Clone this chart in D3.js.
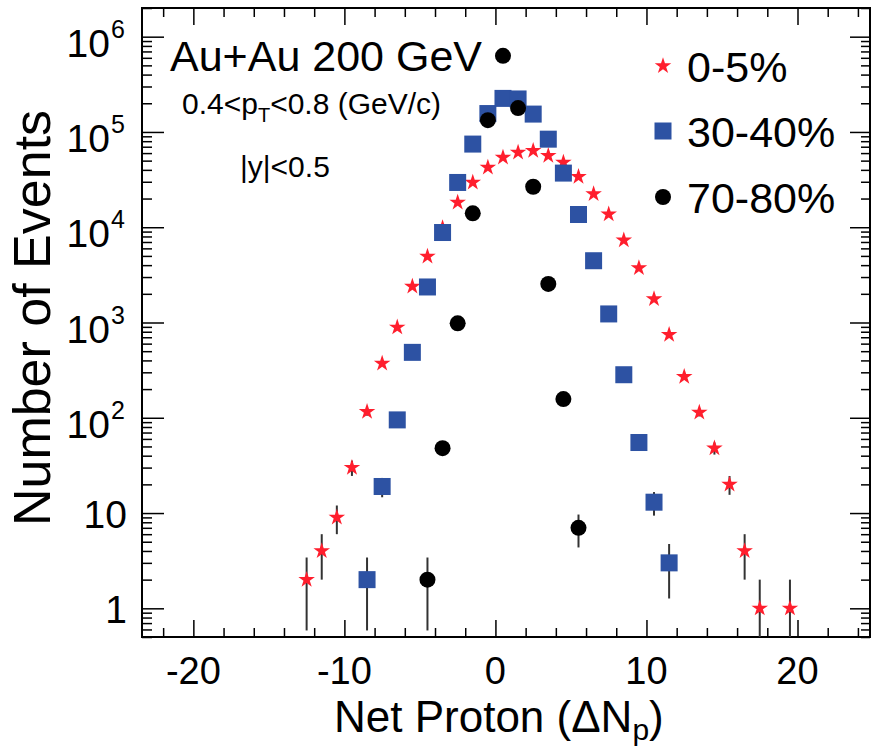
<!DOCTYPE html>
<html>
<head>
<meta charset="utf-8">
<script src="https://cdn.jsdelivr.net/npm/d3@7/dist/d3.min.js"></script>
<style>
body { margin: 0; background: #fff; }
text { font-family: "Liberation Sans", Arial, sans-serif; fill: #000; }
.axis path { display: none; }
.axis line { stroke: #000; stroke-width: 1.5; }
</style>
</head>
<body>
<svg width="871" height="747"></svg>
<script>
// net-proton bins (bin centres) and counts
const binsCentral = [-12.5, -11.5, -10.5, -9.5, -8.5, -7.5, -6.5, -5.5, -4.5, -3.5, -2.5, -1.5, -0.5,
                     0.5, 1.5, 2.5, 3.5, 4.5, 5.5, 6.5, 7.5, 8.5, 9.5, 10.5, 11.5, 12.5, 13.5, 14.5,
                     15.5, 16.5, 17.5, 19.5];
const countsCentral = [2, 4, 9, 30, 116, 372, 890, 2390, 4940, 9800, 18200, 29500, 42400,
                       54000, 61000, 63500, 56200, 47900, 33900, 22300, 13700, 7300, 3730, 1765, 745, 270, 114, 48,
                       20, 4, 1, 1];

const binsMid = [-8.5, -7.5, -6.5, -5.5, -4.5, -3.5, -2.5, -1.5, -0.5, 0.5, 1.5, 2.5, 3.5, 4.5,
                 5.5, 6.5, 7.5, 8.5, 9.5, 10.5, 11.5];
const countsMid = [2, 19, 95, 486, 2360, 8800, 29500, 74600, 156000, 225000, 222000, 154000, 84000, 37000,
                   13600, 4450, 1230, 283, 55, 13, 3];

const binsPeri = [-4.5, -3.5, -2.5, -1.5, -0.5, 0.5, 1.5, 2.5, 3.5, 4.5, 5.5];
const countsPeri = [2, 48, 980, 14000, 133000, 630000, 178000, 26600, 2540, 157, 7];

const legendLabels = ["0-5%", "30-40%", "70-80%"];
const xMajorTicks = [-20, -10, 0, 10, 20];
const yDecades = [1, 10, 100, 1e3, 1e4, 1e5, 1e6];

const svg = d3.select("svg");
const frame = {left: 142, right: 870, top: 8, bottom: 637};

const x = d3.scaleLinear().domain([-23.4, 24.8]).range([frame.left, frame.right]);
const y = d3.scaleLog().domain([0.5, 2e6]).range([frame.bottom, frame.top]);

const xMinor = d3.range(-22, 25, 2).filter(function(v) { return v % 10 !== 0; });
const yMinor = [];
[0.1, 1, 10, 100, 1e3, 1e4, 1e5, 1e6].forEach(function(d) {
    for (let k = 2; k <= 9; k++) {
        const v = k * d;
        if (v >= 0.5 && v <= 2e6) yMinor.push(v);
    }
});

// ticks, all pointing inward
function ticks(axisFn, scale, vals, size, tr) {
    svg.append("g")
        .attr("class", "axis")
        .attr("transform", tr)
        .call(axisFn(scale).tickValues(vals).tickSize(size).tickFormat(""));
}
ticks(d3.axisBottom, x, xMajorTicks, -17, "translate(0," + frame.bottom + ")");
ticks(d3.axisBottom, x, xMinor, -9, "translate(0," + frame.bottom + ")");
ticks(d3.axisTop, x, xMajorTicks, -17, "translate(0," + frame.top + ")");
ticks(d3.axisTop, x, xMinor, -9, "translate(0," + frame.top + ")");
ticks(d3.axisLeft, y, yDecades, -22, "translate(" + frame.left + ",0)");
ticks(d3.axisLeft, y, yMinor, -10, "translate(" + frame.left + ",0)");
ticks(d3.axisRight, y, yDecades, -20, "translate(" + frame.right + ",0)");
ticks(d3.axisRight, y, yMinor, -9, "translate(" + frame.right + ",0)");

svg.append("rect")
    .attr("x", frame.left).attr("y", frame.top)
    .attr("width", frame.right - frame.left).attr("height", frame.bottom - frame.top)
    .attr("fill", "none").attr("stroke", "#000").attr("stroke-width", 2);

// x tick labels
svg.append("g").selectAll("text")
    .data(xMajorTicks)
    .join("text")
    .attr("x", function(d) { return x(d); })
    .attr("y", 684)
    .attr("text-anchor", "middle")
    .attr("font-size", 38)
    .text(function(d) { return d; });

// y tick labels, 10^n with superscript
const yl = svg.append("g").selectAll("g")
    .data(yDecades)
    .join("g")
    .attr("transform", function(d) { return "translate(0," + y(d) + ")"; });
yl.filter(function(d) { return d < 100; })
    .append("text")
    .attr("x", 127).attr("y", 15)
    .attr("text-anchor", "end")
    .attr("font-size", 39)
    .text(function(d) { return d; });
const yp = yl.filter(function(d) { return d >= 100; });
yp.append("text")
    .attr("x", 110).attr("y", 20)
    .attr("text-anchor", "end")
    .attr("font-size", 39)
    .text("10");
yp.append("text")
    .attr("x", 111).attr("y", 1)
    .attr("font-size", 25)
    .text(function(d) { return Math.round(Math.log10(d)); });

// axis titles
const xt = svg.append("text")
    .attr("x", 334).attr("y", 732)
    .attr("font-size", 44);
xt.append("tspan").text("Net Proton (\u0394N");
xt.append("tspan").attr("font-size", 30).attr("dy", 8).text("p");
xt.append("tspan").attr("dy", -8).text(")");

svg.append("text")
    .attr("transform", "translate(50,318) rotate(-90)")
    .attr("text-anchor", "middle")
    .attr("font-size", 52)
    .text("Number of Events");

// annotations
svg.append("text").attr("x", 170).attr("y", 71).attr("font-size", 43).text("Au+Au 200 GeV");
const pt = svg.append("text").attr("x", 182).attr("y", 114).attr("font-size", 30);
pt.append("tspan").text("0.4<p");
pt.append("tspan").attr("font-size", 20).attr("dy", 8).text("T");
pt.append("tspan").attr("dy", -8).text("<0.8 (GeV/c)");
svg.append("text").attr("x", 240).attr("y", 177).attr("font-size", 30).text("|y|<0.5");

// markers
svg.append("clipPath").attr("id", "plotclip")
    .append("rect")
    .attr("x", frame.left).attr("y", frame.top)
    .attr("width", frame.right - frame.left).attr("height", frame.bottom - frame.top);

const plot = svg.append("g").attr("clip-path", "url(#plotclip)");

const series = [
    {bins: binsCentral, counts: countsCentral, shape: "star", color: "#ff1e2d"},
    {bins: binsMid, counts: countsMid, shape: "square", color: "#2d52a3"},
    {bins: binsPeri, counts: countsPeri, shape: "circle", color: "#000"}
];

const starPath = d3.symbol(d3.symbolStar, 85)();

function drawMarker(sel, shape, color) {
    if (shape === "star") {
        sel.append("path").attr("d", starPath).attr("fill", color);
    } else if (shape === "square") {
        sel.append("rect").attr("x", -8.5).attr("y", -8.5).attr("width", 17).attr("height", 17).attr("fill", color);
    } else {
        sel.append("circle").attr("r", 8).attr("fill", color);
    }
}

series.forEach(function(s) {
    const pts = s.bins.map(function(b, i) { return {x: b, v: s.counts[i]}; });
    const g = plot.append("g");
    // poisson error bars
    g.selectAll("line")
        .data(pts)
        .join("line")
        .attr("x1", function(d) { return x(d.x); })
        .attr("x2", function(d) { return x(d.x); })
        .attr("y1", function(d) { return y(Math.max(d.v - Math.sqrt(d.v), 0.3)); })
        .attr("y2", function(d) { return y(d.v + Math.sqrt(d.v)); })
        .attr("stroke", "#333")
        .attr("stroke-width", 2);
    const m = g.selectAll("g.m")
        .data(pts)
        .join("g")
        .attr("class", "m")
        .attr("transform", function(d) { return "translate(" + x(d.x) + "," + y(d.v) + ")"; });
    drawMarker(m, s.shape, s.color);
});

// legend
const legY = [66, 131, 197];
const leg = svg.append("g").selectAll("g")
    .data(series)
    .join("g")
    .attr("transform", function(d, i) { return "translate(663," + legY[i] + ")"; });
leg.each(function(d) { drawMarker(d3.select(this), d.shape, d.color); });
leg.append("text")
    .attr("x", 24).attr("y", 16)
    .attr("font-size", 43)
    .text(function(d, i) { return legendLabels[i]; });
</script>
</body>
</html>
